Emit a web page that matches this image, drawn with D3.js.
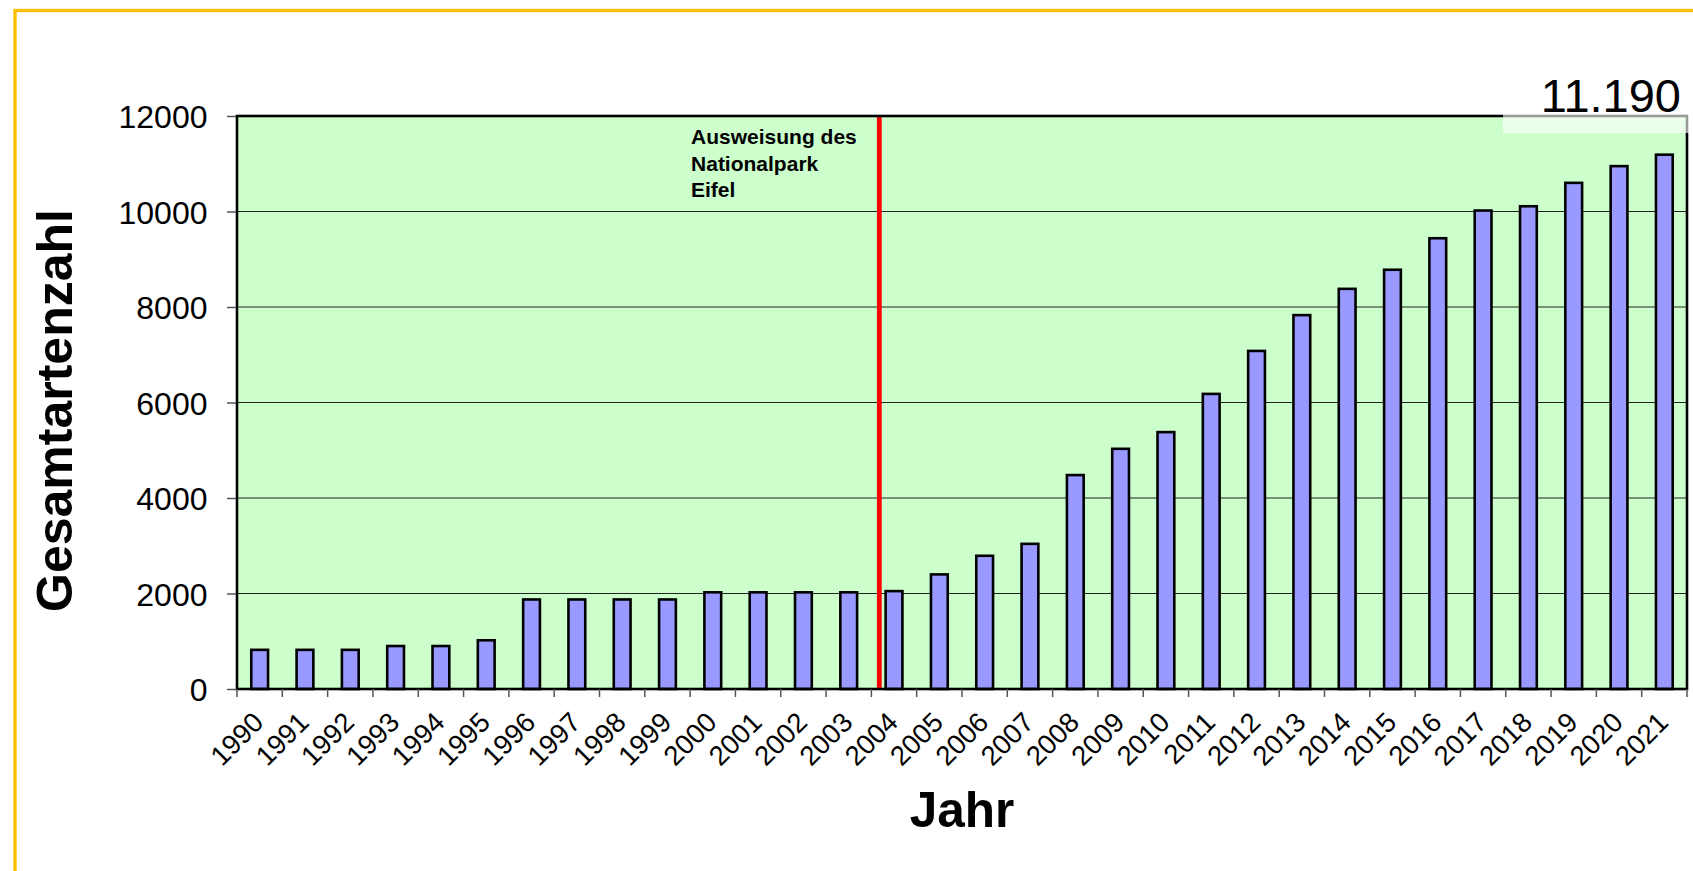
<!DOCTYPE html>
<html>
<head>
<meta charset="utf-8">
<script src="https://cdn.jsdelivr.net/npm/d3@7"></script>
<style>
  html, body { margin: 0; padding: 0; background: #ffffff; }
  svg { display: block; }
  text { font-family: "Liberation Sans", Arial, sans-serif; fill: #000; }
</style>
</head>
<body>
<svg id="chart" width="1693" height="871"></svg>
<script>
// ---- data ----
const years = ["1990","1991","1992","1993","1994","1995","1996","1997","1998","1999",
               "2000","2001","2002","2003","2004","2005","2006","2007","2008","2009",
               "2010","2011","2012","2013","2014","2015","2016","2017","2018","2019",
               "2020","2021"];
const totals = [820, 820, 820, 900, 900, 1020, 1875, 1875, 1875, 1875,
                2025, 2025, 2025, 2025, 2050, 2400, 2790, 3040, 4480, 5030,
                5380, 6180, 7080, 7830, 8380, 8780, 9440, 10020, 10110, 10600,
                10950, 11190];
const yTicks = [0, 2000, 4000, 6000, 8000, 10000, 12000];
const markerYear = "2004";
const markerLines = ["Ausweisung des", "Nationalpark", "Eifel"];
const lastLabel = "11.190";
const yTitle = "Gesamtartenzahl";
const xTitle = "Jahr";

// ---- layout ----
const W = 1693, H = 871;
const L = 237, R = 1687, T = 116, B = 689;

const svg = d3.select("#chart");

// outer yellow frame
svg.append("rect")
  .attr("x", 15).attr("y", 10.5).attr("width", 1720).attr("height", 900)
  .attr("fill", "none").attr("stroke", "#ffc000").attr("stroke-width", 3.4);

const x = d3.scaleBand().domain(years).range([L, R]).padding(0);
const y = d3.scaleLinear().domain([0, 12000]).range([B, T]);

// plot background
svg.append("rect")
  .attr("x", L).attr("y", T).attr("width", R - L).attr("height", B - T)
  .attr("fill", "#ccffcc");

// gridlines
svg.append("g").selectAll("line")
  .data(yTicks.filter(d => d > 0 && d < 12000))
  .join("line")
  .attr("x1", L).attr("x2", R)
  .attr("y1", d => y(d)).attr("y2", d => y(d))
  .attr("stroke", "#222").attr("stroke-width", 1.2);

// bars
const barW = x.bandwidth() * 0.37;
svg.append("g").selectAll("rect")
  .data(years.map((yr, i) => ({ yr, v: totals[i] })))
  .join("rect")
  .attr("x", d => x(d.yr) + x.bandwidth() / 2 - barW / 2)
  .attr("y", d => y(d.v))
  .attr("width", barW)
  .attr("height", d => y(0) - y(d.v))
  .attr("fill", "#9999ff")
  .attr("stroke", "#000")
  .attr("stroke-width", 2.6);

// red marker line
const redX = x(markerYear) + x.step() * 0.175;
svg.append("line")
  .attr("x1", redX).attr("x2", redX)
  .attr("y1", y(12000)).attr("y2", y(0))
  .attr("stroke", "#ff0000").attr("stroke-width", 4.8);

// annotation
const ann = svg.append("text")
  .attr("font-size", 21).attr("font-weight", "bold");
markerLines.forEach((t, i) => {
  ann.append("tspan")
    .attr("x", x(markerYear) - x.step() * 3.98)
    .attr("y", 144.3 + i * 26.2)
    .text(t);
});

// plot border
svg.append("rect")
  .attr("x", L).attr("y", T).attr("width", R - L).attr("height", B - T)
  .attr("fill", "none").attr("stroke", "#000").attr("stroke-width", 2.6);

// y axis
const yAxis = d3.axisLeft(y).tickValues(yTicks).tickSize(9).tickPadding(20)
  .tickFormat(d3.format("d"));
const gy = svg.append("g").attr("transform", `translate(${L - 1},0)`).call(yAxis);
gy.select(".domain").remove();
gy.selectAll(".tick line").attr("stroke", "#555").attr("stroke-width", 1.5);
gy.selectAll(".tick text")
  .attr("font-size", 32).attr("font-family", "Liberation Sans, Arial, sans-serif")
  .attr("fill", "#000").attr("dy", "0.36em").attr("x", -28.5);

// x axis ticks at category boundaries
const boundaries = years.map(yr => x(yr)).concat([R]);
svg.append("g").selectAll("line")
  .data(boundaries)
  .join("line")
  .attr("x1", d => d).attr("x2", d => d)
  .attr("y1", B).attr("y2", B + 8)
  .attr("stroke", "#555").attr("stroke-width", 1.5);

// x tick labels (rotated)
svg.append("g").selectAll("text")
  .data(years)
  .join("text")
  .attr("font-size", 27.5)
  .attr("text-anchor", "end")
  .attr("transform", d => `translate(${x(d) + x.bandwidth() / 2 + 5.5},${724}) rotate(-45)`)
  .text(d => d);

// last value label with light wash box
svg.append("rect")
  .attr("x", 1503).attr("y", 60).attr("width", 186).attr("height", 73)
  .attr("fill", "#ffffff").attr("fill-opacity", 0.6);
svg.append("text")
  .attr("x", 1681).attr("y", 112)
  .attr("text-anchor", "end").attr("font-size", 47)
  .text(lastLabel);

// axis titles
svg.append("text")
  .attr("transform", `translate(72,410.5) rotate(-90)`)
  .attr("text-anchor", "middle").attr("font-size", 50).attr("font-weight", "bold")
  .text(yTitle);
svg.append("text")
  .attr("x", (L + R) / 2).attr("y", 827)
  .attr("text-anchor", "middle").attr("font-size", 49.5).attr("font-weight", "bold")
  .text(xTitle);
</script>
</body>
</html>
